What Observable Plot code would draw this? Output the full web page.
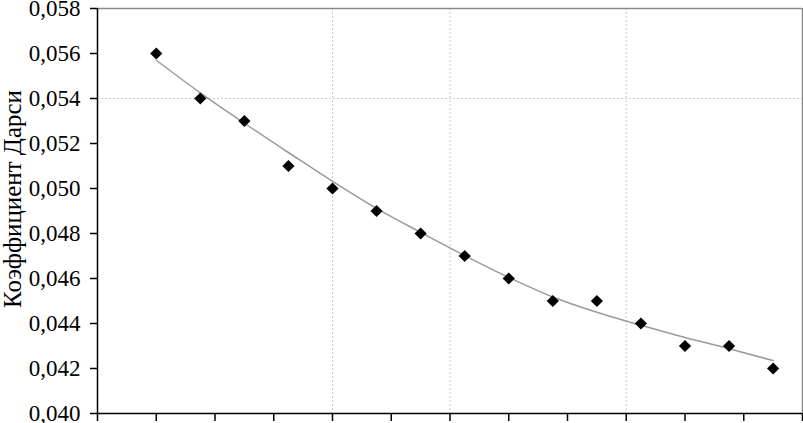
<!DOCTYPE html>
<html>
<head>
<meta charset="utf-8">
<script src="https://cdn.jsdelivr.net/npm/d3@7"></script>
<script src="https://cdn.jsdelivr.net/npm/@observablehq/plot@0.6"></script>
<style>
  html, body { margin: 0; padding: 0; background: #fff; }
</style>
</head>
<body>
<div id="chart"></div>
<script>
// Data
const xValues = [1, 1.75, 2.5, 3.25, 4, 4.75, 5.5, 6.25, 7, 7.75, 8.5, 9.25, 10, 10.75, 11.5];
const darcy = [0.056, 0.054, 0.053, 0.051, 0.050, 0.049, 0.048, 0.047, 0.046, 0.045, 0.045, 0.044, 0.043, 0.043, 0.042];
const trend = [0.0557, 0.05425, 0.0529, 0.0516, 0.05032, 0.04912, 0.04805, 0.04702, 0.04605, 0.04518, 0.0445, 0.04392, 0.04338, 0.04288, 0.04235];
const yTicks = [0.040, 0.042, 0.044, 0.046, 0.048, 0.050, 0.052, 0.054, 0.056, 0.058];
const xTicks = [0, 1, 2, 3, 4, 5, 6, 7, 8, 9, 10, 11, 12];
const xGrid = [4, 6, 9];
const yGrid = [0.054];
const yLabel = "Коэффициент Дарси";

const points = xValues.map((x, i) => ({x, y: darcy[i]}));
const trendPts = xValues.map((x, i) => ({x, y: trend[i]}));
const fmt = d => d3.format(".3f")(d).replace(".", ",");

const chart = Plot.plot({
  width: 803,
  height: 423,
  marginLeft: 97,
  marginRight: 1,
  marginTop: 8,
  marginBottom: 10,
  style: {fontFamily: "'Liberation Serif', 'Times New Roman', serif", fontSize: "23px", background: "#fff", color: "#000"},
  x: {domain: [0, 12]},
  y: {domain: [0.040, 0.058]},
  marks: [
    Plot.ruleX(xGrid, {stroke: "#c8c8c8", strokeDasharray: "2,2", strokeWidth: 1}),
    Plot.ruleY(yGrid, {stroke: "#c8c8c8", strokeDasharray: "2,2", strokeWidth: 1}),
    Plot.ruleY([0.058], {stroke: "#8a8a8a", strokeWidth: 1.5}),
    Plot.ruleX([12], {stroke: "#8a8a8a", strokeWidth: 1.5}),
    Plot.axisY({ticks: yTicks, tickFormat: fmt, tickSize: 7, tickPadding: 10, label: null, stroke: "#000", strokeWidth: 1.5, fontSize: 23}),
    Plot.axisX({ticks: xTicks, tickFormat: () => "", tickSize: 8, label: null, stroke: "#000", strokeWidth: 1.5}),
    Plot.ruleX([0], {stroke: "#000", strokeWidth: 1.5}),
    Plot.ruleY([0.040], {stroke: "#000", strokeWidth: 1.5}),
    Plot.line(trendPts, {x: "x", y: "y", stroke: "#9a9a9a", strokeWidth: 1.5, curve: "monotone-x"}),
    Plot.dot(points, {x: "x", y: "y", symbol: "diamond2", r: 5.5, fill: "#000", stroke: "none"}),
    Plot.text([yLabel], {frameAnchor: "left", textAnchor: "middle", dx: -85, dy: -12, rotate: -90, text: d => d, fontSize: 25, fill: "#000"})
  ]
});
document.getElementById("chart").appendChild(chart);
</script>
</body>
</html>
